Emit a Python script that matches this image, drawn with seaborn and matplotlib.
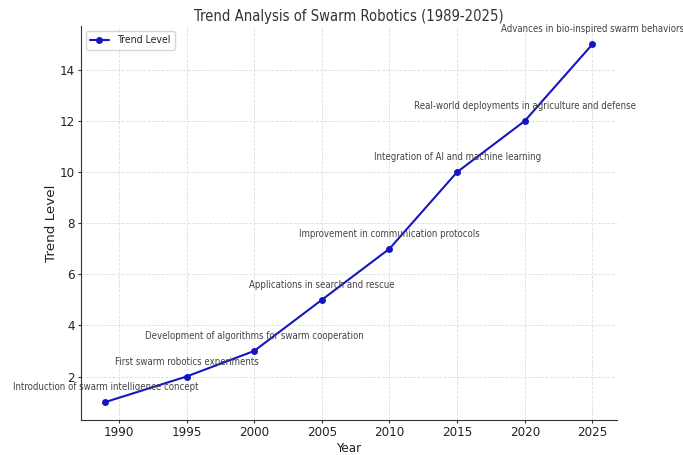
import matplotlib
matplotlib.use("Agg")
import matplotlib.pyplot as plt
import matplotlib.font_manager as fm
import seaborn as sns
import pandas as pd

years = [1989, 1995, 2000, 2005, 2010, 2015, 2020, 2025]
trend_levels = [1, 2, 3, 5, 7, 10, 12, 15]
events = [
    "Introduction of swarm intelligence concept",
    "First swarm robotics experiments",
    "Development of algorithms for swarm cooperation",
    "Applications in search and rescue",
    "Improvement in communication protocols",
    "Integration of AI and machine learning",
    "Real-world deployments in agriculture and defense",
    "Advances in bio-inspired swarm behaviors",
]
x_ticks = [1990, 1995, 2000, 2005, 2010, 2015, 2020, 2025]
y_ticks = [2, 4, 6, 8, 10, 12, 14]

df = pd.DataFrame({"Year": years, "Trend Level": trend_levels})

sns.set_style("white")
plt.rcParams['font.family'] = ['DejaVu Sans']

# prefer a condensed DejaVu face if installed (reference text is horizontally narrow)
cond_file = None
for f in fm.fontManager.ttflist:
    if "DejaVuSansCondensed.ttf" in f.fname:
        cond_file = f.fname
        break
if cond_file:
    fp = lambda size: fm.FontProperties(fname=cond_file, size=size)
    k = 1.08
else:
    fp = lambda size: fm.FontProperties(family="DejaVu Sans", size=size)
    k = 1.0

txt_col = "#333333"
fig = plt.figure(figsize=(6.83, 4.55), dpi=100)
ax = fig.add_axes([0.1186, 0.077, 0.7844, 0.865])

sns.lineplot(data=df, x="Year", y="Trend Level", marker="o", color="#1616c0",
             markersize=5, markeredgewidth=0, linewidth=1.5, label="Trend Level", ax=ax)

for x, y, t in zip(years, trend_levels, events):
    ax.annotate(t, (x, y), xytext=(0, 8.5), textcoords="offset points",
                ha="center", fontproperties=fp(6.4 * k), color="#444444",
                annotation_clip=False)

ax.grid(True, linestyle="--", color="#dddddd", linewidth=0.6)
ax.set_xticks(x_ticks)
ax.set_yticks(y_ticks)
ax.tick_params(axis="both", length=2.5, pad=1.8, color=txt_col, left=True, bottom=True)
for lab in ax.get_xticklabels() + ax.get_yticklabels():
    lab.set_fontproperties(fp(8.8 * k))
    lab.set_color("#222222")
ax.set_xlabel("Year", fontproperties=fp(8.8 * k), color="#222222", labelpad=2)
ax.set_ylabel("Trend Level", fontproperties=fm.FontProperties(family="DejaVu Sans", size=9.7),
              color="#222222", labelpad=1.5)
ax.set_title("Trend Analysis of Swarm Robotics (1989-2025)", fontproperties=fp(9.8 * k),
             color="#333333", pad=4)
for s in ["top", "right"]:
    ax.spines[s].set_visible(False)
for s in ["left", "bottom"]:
    ax.spines[s].set_color(txt_col)
ax.legend(loc="upper left", prop=fp(7.0 * k), borderaxespad=0.45, handlelength=1.8)

fig.savefig("out.png", dpi=100)
